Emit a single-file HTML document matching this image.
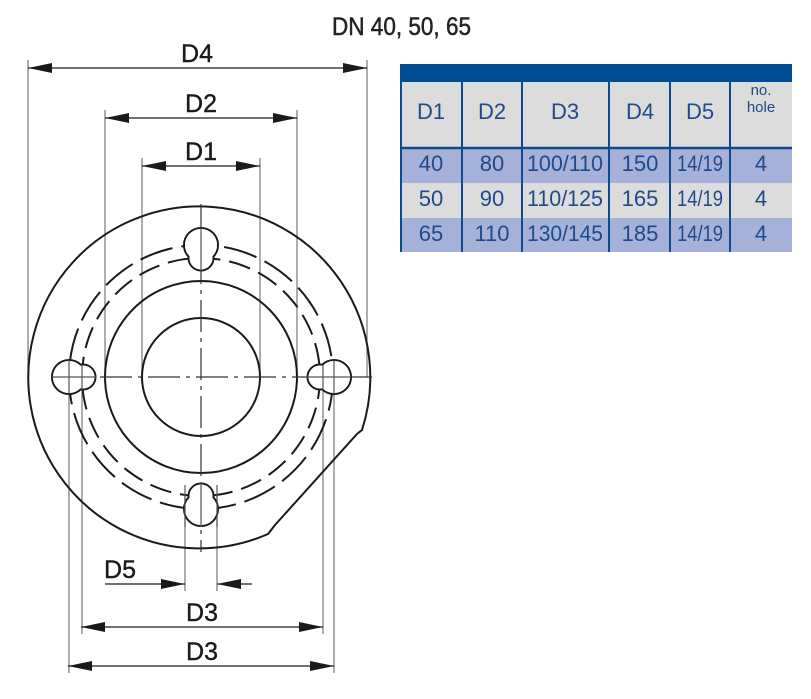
<!DOCTYPE html>
<html><head><meta charset="utf-8"><style>
html,body{margin:0;padding:0;background:#fff;}
svg{display:block;}
</style></head><body>
<svg width="811" height="699" viewBox="0 0 811 699" xmlns="http://www.w3.org/2000/svg" font-family="'Liberation Sans', sans-serif">
<defs>
<marker id="a" viewBox="0 0 24 10" refX="24" refY="5" markerWidth="24" markerHeight="10" markerUnits="userSpaceOnUse" orient="auto-start-reverse">
<path d="M0 0 L24 5 L0 10 Z" fill="#1a1a1a"/>
</marker>
</defs>
<!-- title -->
<text x="332" y="35" font-size="25" fill="#222" stroke="#222" stroke-width="0.5" textLength="139" lengthAdjust="spacingAndGlyphs">DN 40, 50, 65</text>

<!-- extension lines -->
<g stroke="#777" stroke-width="1.2">
<line x1="28" y1="60" x2="28" y2="377"/>
<line x1="367" y1="60" x2="367" y2="377"/>
<line x1="105" y1="110" x2="105" y2="377"/>
<line x1="297" y1="110" x2="297" y2="377"/>
<line x1="142" y1="158" x2="142" y2="377"/>
<line x1="260" y1="158" x2="260" y2="377"/>
<line x1="69" y1="377" x2="69" y2="673"/>
<line x1="334" y1="377" x2="334" y2="673"/>
<line x1="82" y1="377" x2="82" y2="634"/>
<line x1="323" y1="377" x2="323" y2="634"/>
<line x1="185" y1="495" x2="185" y2="591"/>
<line x1="217" y1="495" x2="217" y2="591"/>
</g>

<!-- dimension lines -->
<g stroke="#1a1a1a" stroke-width="1.3">
<line x1="28" y1="68" x2="367" y2="68" marker-start="url(#a)" marker-end="url(#a)"/>
<line x1="105" y1="118" x2="297" y2="118" marker-start="url(#a)" marker-end="url(#a)"/>
<line x1="142" y1="166" x2="260" y2="166" marker-start="url(#a)" marker-end="url(#a)"/>
<line x1="81" y1="627" x2="323" y2="627" marker-start="url(#a)" marker-end="url(#a)"/>
<line x1="68" y1="666" x2="334" y2="666" marker-start="url(#a)" marker-end="url(#a)"/>
<line x1="105" y1="584" x2="185" y2="584" marker-end="url(#a)"/>
<line x1="252" y1="584" x2="217" y2="584" marker-end="url(#a)"/>
</g>
<g font-size="25" fill="#1a1a1a" stroke="#1a1a1a" stroke-width="0.4" text-anchor="middle">
<text x="197" y="62">D4</text>
<text x="201" y="112">D2</text>
<text x="201" y="160">D1</text>
<text x="202" y="621">D3</text>
<text x="202" y="660">D3</text>
<text x="120" y="578">D5</text>
</g>

<!-- flange -->
<g fill="none" stroke="#1a1a1a" stroke-width="2">
<path d="M 362 430 A 171 171 0 1 0 268 534 L 275 525 L 357 434 Z"/>
<circle cx="201" cy="377" r="96"/>
<circle cx="201" cy="377" r="59"/>
<circle cx="201" cy="377" r="119" stroke-dasharray="22 9"/>
<circle cx="201" cy="377" r="132" stroke-dasharray="34 9"/>
</g>
<!-- center lines -->
<g stroke="#333" stroke-width="1.2" stroke-dasharray="32 6 4 6">
<line x1="52" y1="377" x2="376" y2="377"/>
<line x1="201" y1="204" x2="201" y2="552"/>
</g>
<!-- holes -->
<g stroke="#1a1a1a" stroke-width="2" fill="#fff">
<circle cx="201" cy="245" r="17"/><circle cx="201" cy="258" r="12.5"/>
<circle cx="201" cy="509" r="17"/><circle cx="201" cy="496" r="12.5"/>
<circle cx="69" cy="377" r="17"/><circle cx="83" cy="377" r="12.5"/>
<circle cx="334" cy="377" r="17"/><circle cx="320" cy="377" r="12.5"/>
</g>
<g fill="#fff">
<circle cx="201" cy="245" r="16"/><circle cx="201" cy="258" r="11.5"/>
<circle cx="201" cy="509" r="16"/><circle cx="201" cy="496" r="11.5"/>
<circle cx="69" cy="377" r="16"/><circle cx="83" cy="377" r="11.5"/>
<circle cx="334" cy="377" r="16"/><circle cx="320" cy="377" r="11.5"/>
</g>
<g stroke="#555" stroke-width="1.2">
<line x1="201" y1="228" x2="201" y2="271"/>
<line x1="201" y1="482" x2="201" y2="527"/>
<line x1="52" y1="377" x2="96" y2="377"/>
<line x1="307" y1="377" x2="351" y2="377"/>
<line x1="185" y1="485" x2="185" y2="527"/>
<line x1="217" y1="485" x2="217" y2="527"/>
<line x1="69" y1="360" x2="69" y2="394"/>
<line x1="82" y1="365" x2="82" y2="390"/>
<line x1="323" y1="365" x2="323" y2="390"/>
<line x1="334" y1="360" x2="334" y2="394"/>
</g>

<!-- table -->
<rect x="400" y="64" width="392" height="18" fill="#004a8f"/>
<rect x="400" y="82" width="392" height="66" fill="#dcdcdc"/>
<rect x="400" y="148" width="392" height="35" fill="#a5b1d9"/>
<rect x="400" y="183" width="392" height="35" fill="#dcdcdc"/>
<rect x="400" y="218" width="392" height="34" fill="#a5b1d9"/>
<line x1="400" y1="148" x2="792" y2="148" stroke="#0e4a8c" stroke-width="2.5"/>
<g stroke="#0e4a8c" stroke-width="2">
<line x1="401" y1="82" x2="401" y2="252"/>
<line x1="462" y1="82" x2="462" y2="252"/>
<line x1="522" y1="82" x2="522" y2="252"/>
<line x1="609" y1="82" x2="609" y2="252"/>
<line x1="670" y1="82" x2="670" y2="252"/>
<line x1="730" y1="82" x2="730" y2="252"/>
</g>
<g fill="#1f4a8a" font-size="22" text-anchor="middle">
<text x="431" y="119">D1</text><text x="492" y="119">D2</text><text x="565" y="119">D3</text>
<text x="640" y="119">D4</text><text x="700" y="119">D5</text>
<text x="761" y="95" font-size="15">no.</text><text x="761" y="112" font-size="15">hole</text>
<text x="431" y="171">40</text><text x="492" y="171">80</text><text x="565" y="171" textLength="76" lengthAdjust="spacingAndGlyphs">100/110</text><text x="640" y="171">150</text><text x="700" y="171" textLength="46" lengthAdjust="spacingAndGlyphs">14/19</text><text x="761" y="171">4</text>
<text x="431" y="206">50</text><text x="492" y="206">90</text><text x="565" y="206" textLength="76" lengthAdjust="spacingAndGlyphs">110/125</text><text x="640" y="206">165</text><text x="700" y="206" textLength="46" lengthAdjust="spacingAndGlyphs">14/19</text><text x="761" y="206">4</text>
<text x="431" y="241">65</text><text x="492" y="241">110</text><text x="565" y="241" textLength="76" lengthAdjust="spacingAndGlyphs">130/145</text><text x="640" y="241">185</text><text x="700" y="241" textLength="46" lengthAdjust="spacingAndGlyphs">14/19</text><text x="761" y="241">4</text>
</g>
</svg>
</body></html>
